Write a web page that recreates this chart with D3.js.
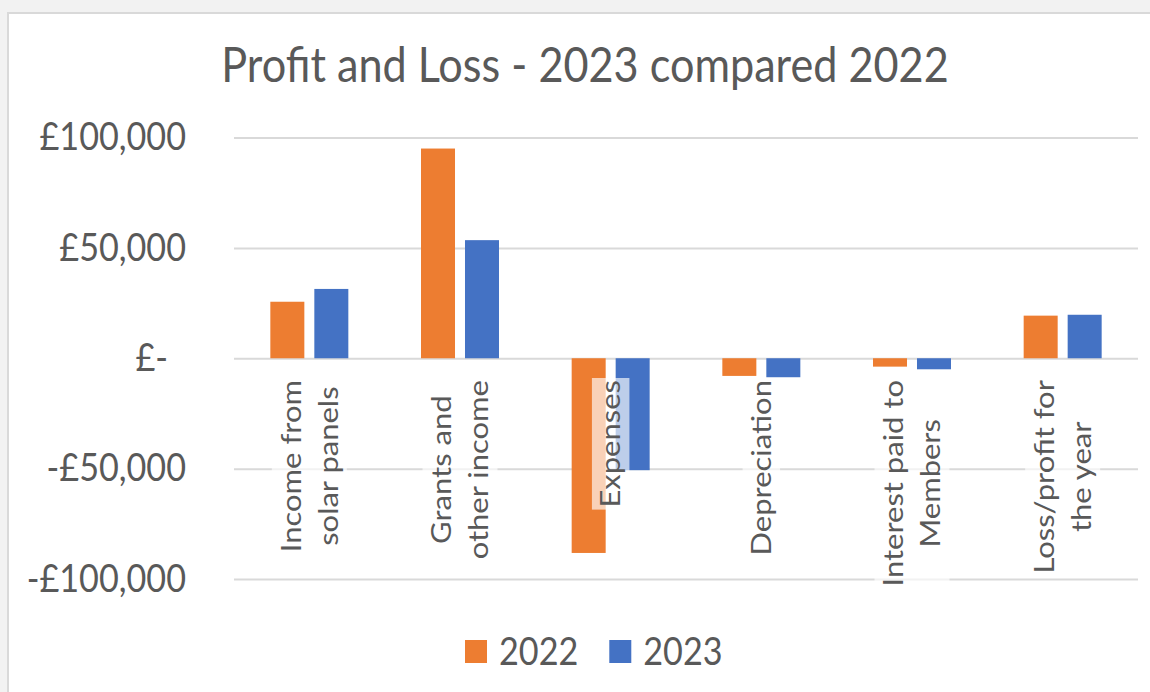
<!DOCTYPE html>
<html>
<head>
<meta charset="utf-8">
<script src="https://cdn.jsdelivr.net/npm/d3@7"></script>
<style>
  body { margin: 0; background: #f2f2f2; }
  svg { display: block; }
  text { font-family: Lato, "Open Sans", sans-serif; fill: #595959; }
</style>
</head>
<body>
<div id="chart"></div>
<script>
// data
const categories = [
    ["Income from", "solar panels"],
    ["Grants and", "other income"],
    ["Expenses"],
    ["Depreciation"],
    ["Interest paid to", "Members"],
    ["Loss/profit for", "the year"]
];
const seriesNames = ["2022", "2023"];
const values2022 = [25600, 95000, -88200, -8000, -3800, 19300];
const values2023 = [31400, 53500, -50700, -8600, -5000, 19700];
const tickValues = [-100000, -50000, 0, 50000, 100000];
const tickLabels = ["-£100,000", "-£50,000", "£-", "£50,000", "£100,000"];
const seriesColors = ["#ED7D31", "#4472C4"];

const W = 1150, H = 692;
const sx = 0.9; // the text in the picture is a bit narrow
const plot = { left: 234, right: 1138, top: 137.5, bottom: 579 };

const svg = d3.select("#chart")
    .append("svg")
    .attr("width", W)
    .attr("height", H);

// chart area
svg.append("rect")
    .attr("x", 8).attr("y", 13)
    .attr("width", W + 20).attr("height", H + 20)
    .attr("fill", "white")
    .attr("stroke", "#d9d9d9")
    .attr("stroke-width", 2);

const catKeys = categories.map(c => c.join(" "));

const x = d3.scaleBand()
    .domain(catKeys)
    .range([plot.left, plot.right]);

const x1 = d3.scaleBand()
    .domain(seriesNames)
    .range([0, x.bandwidth()])
    .paddingInner(0.227)
    .paddingOuter(0.826);

const y = d3.scaleLinear()
    .domain([-100000, 100000])
    .range([plot.bottom, plot.top]);

const color = d3.scaleOrdinal()
    .domain(seriesNames)
    .range(seriesColors);

// y axis + gridlines
const pad = 48;
const yAxis = svg.append("g")
    .attr("transform", `translate(${plot.left},0)`)
    .call(d3.axisLeft(y)
        .tickValues(tickValues)
        .tickFormat((d, i) => tickLabels[i])
        .tickSize(-(plot.right - plot.left))
        .tickPadding(pad));
yAxis.select(".domain").remove();
yAxis.selectAll(".tick line")
    .attr("stroke", "#d9d9d9")
    .attr("stroke-width", 2);
yAxis.selectAll(".tick text")
    .attr("x", d => (d === 0 ? -pad - 18 : -pad) / sx)
    .attr("transform", `scale(${sx},1)`)
    .style("font-size", "38px")
    .style("fill", "#595959");

// bars
const rows = catKeys.map((k, i) => ({ key: k, "2022": values2022[i], "2023": values2023[i] }));

svg.append("g")
    .selectAll("g")
    .data(rows)
    .join("g")
    .attr("transform", d => `translate(${x(d.key)},0)`)
    .selectAll("rect")
    .data(d => seriesNames.map(s => ({ s: s, v: d[s] })))
    .join("rect")
    .attr("x", d => x1(d.s))
    .attr("y", d => y(Math.max(0, d.v)))
    .attr("width", x1.bandwidth())
    .attr("height", d => Math.abs(y(d.v) - y(0)))
    .attr("fill", d => color(d.s));

// category labels, rotated, with half see-through white boxes
const labelTop = 380, lineH = 37;
const labels = svg.append("g");
categories.forEach((lines, i) => {
    const cx = x(catKeys[i]) + x.bandwidth() / 2;
    const g = labels.append("g");
    const box = g.append("rect");
    const t = g.append("g");
    const texts = lines.map((ln, j) => t.append("text")
        .attr("text-anchor", "middle")
        .attr("y", (j - (lines.length - 1) / 2) * lineH / sx)
        .attr("dy", "0.35em")
        .style("font-size", "31px")
        .text(ln));
    const len = d3.max(texts, tx => tx.node().getComputedTextLength());
    t.attr("transform", `translate(${cx},${labelTop + len / 2}) scale(${sx},1) rotate(-90)`);
    const bw = lines.length * 37.5;
    box.attr("x", cx - bw / 2)
        .attr("y", labelTop - 2)
        .attr("width", bw)
        .attr("height", len + 4)
        .attr("fill", "white")
        .attr("fill-opacity", 0.65);
});

// title
svg.append("text")
    .attr("transform", `translate(585,82) scale(${sx},1)`)
    .attr("text-anchor", "middle")
    .style("font-size", "48px")
    .text("Profit and Loss - 2023 compared 2022");

// legend
const legend = svg.append("g");
let lx = 465;
seriesNames.forEach(s => {
    legend.append("rect")
        .attr("x", lx).attr("y", 640)
        .attr("width", 22).attr("height", 23)
        .attr("fill", color(s));
    const tx = legend.append("text")
        .attr("transform", `translate(${lx + 34},665) scale(${sx},1)`)
        .style("font-size", "38px")
        .text(s);
    lx += 34 + tx.node().getComputedTextLength() * sx + 31;
});
</script>
</body>
</html>
